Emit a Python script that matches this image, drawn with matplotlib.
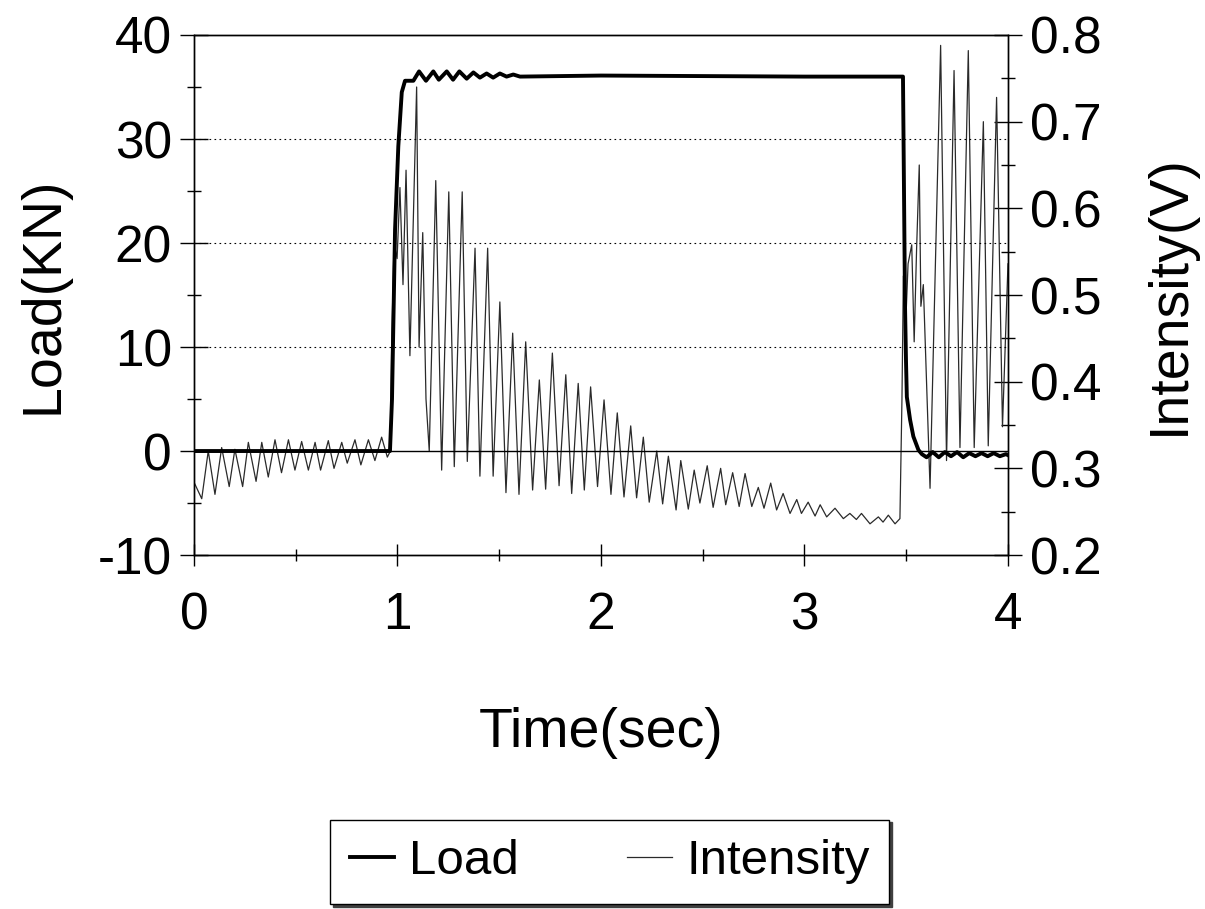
import numpy as np
import matplotlib.pyplot as plt
from matplotlib.ticker import MultipleLocator

plt.rcParams['font.family'] = ['Liberation Sans', 'DejaVu Sans']
plt.rcParams['axes.unicode_minus'] = False

# Load trace (KN) vs time (sec)
load_t = [0.0, 0.963, 0.973, 0.988, 1.004, 1.021, 1.037, 1.078, 1.106, 1.140, 1.176,
          1.203, 1.242, 1.273, 1.304, 1.340, 1.373, 1.405, 1.438, 1.470, 1.503,
          1.536, 1.569, 1.602, 2.0, 3.0, 3.484, 3.489, 3.494, 3.499, 3.503, 3.519,
          3.535, 3.560, 3.577, 3.60, 3.63, 3.66, 3.69, 3.72, 3.75, 3.78, 3.81,
          3.84, 3.87, 3.90, 3.93, 3.96, 3.99, 4.0]
load_kn = [0.0, 0.0, 5.0, 21.3, 29.3, 34.5, 35.6, 35.6, 36.5, 35.6, 36.5,
           35.7, 36.5, 35.7, 36.5, 35.8, 36.4, 35.9, 36.3, 35.9, 36.3,
           36.0, 36.2, 36.0, 36.1, 36.0, 36.0, 25.0, 14.0, 8.5, 5.2, 3.0,
           1.4, 0.1, -0.3, -0.6, -0.1, -0.6, -0.1, -0.5, -0.1, -0.6, -0.2,
           -0.5, -0.2, -0.5, -0.2, -0.5, -0.3, -0.4]

# Intensity trace (V) vs time (sec)
int_t = [0.0, 0.038, 0.070, 0.103, 0.136, 0.173, 0.201, 0.239, 0.267, 0.305,
         0.333, 0.365, 0.398, 0.430, 0.464, 0.496, 0.529, 0.562, 0.595, 0.622,
         0.660, 0.688, 0.726, 0.753, 0.791, 0.820, 0.857, 0.889, 0.922, 0.950,
         0.965,
         0.971, 0.983, 0.998, 1.012, 1.027, 1.042, 1.061, 1.094, 1.106, 1.124,
         1.140, 1.156, 1.188, 1.217, 1.252, 1.279, 1.318, 1.343, 1.381, 1.405,
         1.443, 1.470, 1.503, 1.533, 1.566, 1.597, 1.630, 1.664, 1.697, 1.728,
         1.761, 1.794, 1.827, 1.856, 1.888, 1.918, 1.949, 1.983, 2.015, 2.049,
         2.080, 2.113, 2.146, 2.175, 2.208, 2.237, 2.274, 2.303, 2.331, 2.369,
         2.392, 2.429, 2.458, 2.486, 2.522, 2.551, 2.588, 2.613, 2.647, 2.679,
         2.708, 2.741, 2.773, 2.801, 2.834, 2.863, 2.895, 2.929, 2.962, 2.985,
         3.018, 3.052, 3.077, 3.109, 3.150, 3.191, 3.223, 3.255, 3.280, 3.322,
         3.363, 3.386, 3.412, 3.445, 3.469, 3.479, 3.486, 3.499, 3.509, 3.527,
         3.539, 3.551, 3.564, 3.572, 3.584, 3.617, 3.669, 3.698, 3.735, 3.764,
         3.805, 3.834, 3.879, 3.903, 3.944, 3.973, 4.0]
int_v = [0.284, 0.265, 0.320, 0.270, 0.324, 0.279, 0.322, 0.279, 0.330, 0.285,
         0.330, 0.290, 0.333, 0.295, 0.333, 0.298, 0.331, 0.298, 0.330, 0.298,
         0.332, 0.300, 0.330, 0.306, 0.333, 0.304, 0.333, 0.309, 0.336, 0.313,
         0.320,
         0.440, 0.560, 0.542, 0.624, 0.512, 0.644, 0.430, 0.740, 0.440, 0.572,
         0.380, 0.320, 0.632, 0.298, 0.619, 0.302, 0.619, 0.308, 0.554, 0.291,
         0.554, 0.291, 0.492, 0.272, 0.456, 0.270, 0.446, 0.275, 0.402, 0.276,
         0.433, 0.280, 0.408, 0.271, 0.398, 0.275, 0.394, 0.279, 0.379, 0.270,
         0.364, 0.267, 0.349, 0.266, 0.336, 0.261, 0.320, 0.259, 0.314, 0.252,
         0.309, 0.253, 0.298, 0.260, 0.303, 0.255, 0.300, 0.258, 0.295, 0.256,
         0.294, 0.256, 0.278, 0.254, 0.283, 0.252, 0.271, 0.248, 0.264, 0.248,
         0.261, 0.245, 0.258, 0.244, 0.254, 0.242, 0.248, 0.241, 0.248, 0.236,
         0.244, 0.238, 0.246, 0.236, 0.242, 0.380, 0.522, 0.476, 0.536, 0.558,
         0.446, 0.554, 0.650, 0.487, 0.512, 0.277, 0.788, 0.309, 0.759, 0.324,
         0.782, 0.324, 0.700, 0.326, 0.728, 0.348, 0.536]

fig = plt.figure(figsize=(12.05, 9.09), dpi=100)
ax = fig.add_axes([0.161, 0.3894, 0.6755, 0.5721])
ax2 = ax.twinx()

ax.set_xlim(0, 4)
ax.set_ylim(-10, 40)
ax2.set_ylim(0.2, 0.8)

# gridlines and zero line
for g in (10, 20, 30):
    ax.axhline(g, color='black', lw=0.8, ls=(0, (1.5, 3)), zorder=0)
ax.axhline(0, color='black', lw=1.0, zorder=1)

l2, = ax2.plot(int_t, int_v, color='#2a2a2a', lw=0.9, label='Intensity')
l1, = ax.plot(load_t, load_kn, color='black', lw=2.8, label='Load', zorder=3)
ax.set_zorder(ax2.get_zorder() + 1)
ax.patch.set_visible(False)

fs = 37
ax.set_xticks([0, 1, 2, 3, 4])
ax.xaxis.set_minor_locator(MultipleLocator(0.5))
ax.set_yticks([-10, 0, 10, 20, 30, 40])
ax.yaxis.set_minor_locator(MultipleLocator(5))
ax2.set_yticks([0.2, 0.3, 0.4, 0.5, 0.6, 0.7, 0.8])
ax2.set_yticklabels(['0.2', '0.3', '0.4', '0.5', '0.6', '0.7', '0.8'])
ax2.yaxis.set_minor_locator(MultipleLocator(0.05))

ax.tick_params(axis='x', which='major', direction='inout', length=16, width=1,
               labelsize=fs, pad=18)
ax.tick_params(axis='x', which='minor', direction='inout', length=9, width=1)
ax.tick_params(axis='y', which='major', direction='inout', length=20, width=1,
               labelsize=fs, pad=6)
ax.tick_params(axis='y', which='minor', direction='inout', length=10, width=1)
ax2.tick_params(axis='y', which='major', direction='inout', length=20, width=1,
                labelsize=fs, pad=6)
ax2.tick_params(axis='y', which='minor', direction='inout', length=10, width=1)

for a in (ax, ax2):
    for s in a.spines.values():
        s.set_linewidth(1.0)

ax.set_xlabel('Time(sec)', fontsize=40, labelpad=48)
ax.set_ylabel('Load(KN)', fontsize=40, labelpad=20)
ax2.set_ylabel('Intensity(V)', fontsize=40, labelpad=30)

leg = fig.legend([l1, l2], ['Load', 'Intensity'], loc='center',
                 bbox_to_anchor=(0.506, 0.052), ncol=2, fontsize=35.5,
                 frameon=True, fancybox=False, shadow={'color': '0.25', 'alpha': 1},
                 edgecolor='black', handlelength=0.9, handletextpad=0.3,
                 columnspacing=2.2, borderpad=0.4, borderaxespad=0)
leg.get_frame().set_linewidth(1.0)

fig.savefig('out.png', dpi=100)
